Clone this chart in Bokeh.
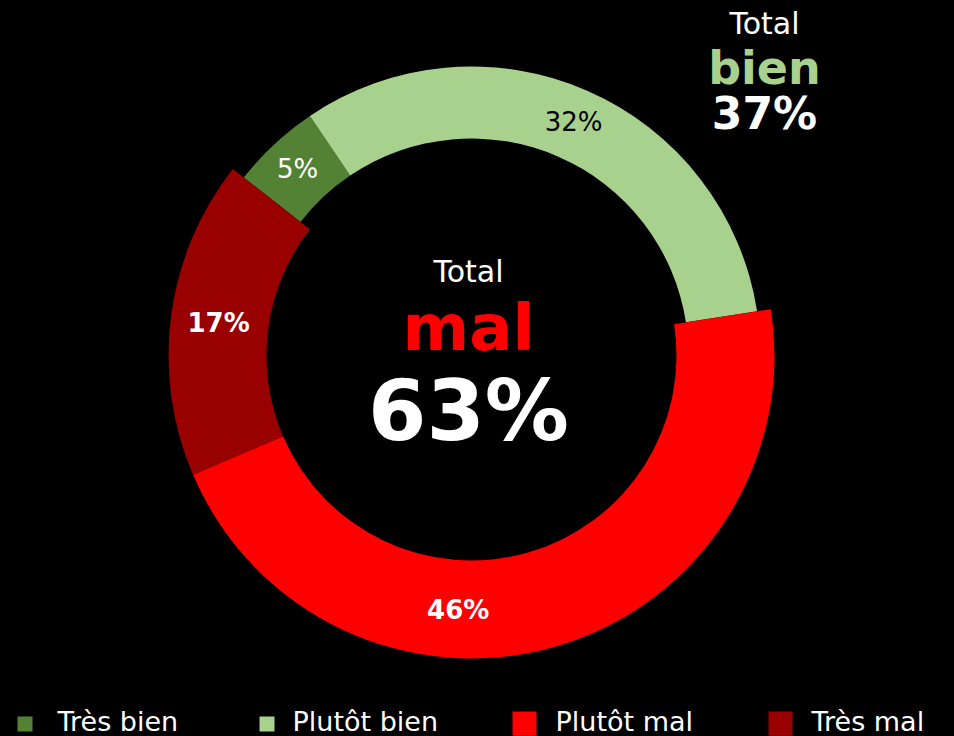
import math
from bokeh.plotting import figure
from bokeh.models import Range1d, ColumnDataSource
from bokeh.core.properties import value
from bokeh.embed import file_html
from bokeh.resources import INLINE

# ---- data ----
categories = ["Très bien", "Plutôt bien", "Plutôt mal", "Très mal"]
values = [5, 32, 46, 17]
groups = ["bien", "bien", "mal", "mal"]
colors = ["#548235", "#a9d18e", "#ff0000", "#990000"]
label_colors = ["white", "black", "white", "white"]
label_styles = ["normal", "normal", "bold", "bold"]
total_bien = sum(v for v, g in zip(values, groups) if g == "bien")
total_mal = sum(v for v, g in zip(values, groups) if g == "mal")

# ---- layout (image pixel coordinates, Y = 736 - img_y) ----
W, H = 954, 736
def Y(img_y):
    return H - img_y

cx, cy = 471, Y(355)
ring = {"bien": (217, 289), "mal": (205, 303)}
start_deg = 142.0
label_r = 255
label_shift = [0, 0, -19, 0]  # manual label nudges (deg)
FONT = "DejaVu Sans"

p = figure(width=W, height=H, x_range=Range1d(0, W), y_range=Range1d(0, H),
           output_backend="svg", toolbar_location=None, min_border=0,
           x_axis_type=None, y_axis_type=None,
           background_fill_color="black", border_fill_color="black",
           outline_line_color=None)
p.grid.visible = False

starts, ends, inners, outers, lx, ly, labels = [], [], [], [], [], [], []
a = start_deg
for v, g, sh in zip(values, groups, label_shift):
    span = v / 100.0 * 360.0
    starts.append(math.radians(a))
    ends.append(math.radians(a - span))
    inners.append(ring[g][0])
    outers.append(ring[g][1])
    mid = math.radians(a - span / 2 + sh)
    lx.append(cx + label_r * math.cos(mid))
    ly.append(cy + label_r * math.sin(mid))
    labels.append(f"{v}%")
    a -= span

src = ColumnDataSource(dict(x=[cx] * 4, y=[cy] * 4, start=starts, end=ends,
                            inner=inners, outer=outers, color=colors,
                            lx=lx, ly=ly, label=labels, lcolor=label_colors,
                            lstyle=label_styles, cat=categories))
p.annular_wedge(x="x", y="y", inner_radius="inner", outer_radius="outer",
                start_angle="start", end_angle="end",
                direction="clock", fill_color="color", line_color=None, source=src)

p.text(x="lx", y="ly", text="label", text_color="lcolor", text_font_style="lstyle",
       text_font=value(FONT), text_font_size="26px", text_align="center",
       text_baseline="middle", source=src)

# centre texts
p.text(x=[468], y=[Y(271)], text=["Total"], text_color="white", text_font=value(FONT),
       text_font_size="30px", text_align="center", text_baseline="middle")
p.text(x=[468], y=[Y(327)], text=["mal"], text_color="#ff0000", text_font=value(FONT),
       text_font_style="bold", text_font_size="64px", text_align="center",
       text_baseline="middle")
p.text(x=[468], y=[Y(410)], text=[f"{total_mal}%"], text_color="white",
       text_font=value(FONT), text_font_style="bold", text_font_size="84px",
       text_align="center", text_baseline="middle")

# top-right texts
p.text(x=[764], y=[Y(23)], text=["Total"], text_color="white", text_font=value(FONT),
       text_font_size="30px", text_align="center", text_baseline="middle")
p.text(x=[764], y=[Y(67)], text=["bien"], text_color="#a9d18e", text_font=value(FONT),
       text_font_style="bold", text_font_size="46px", text_align="center",
       text_baseline="middle")
p.text(x=[764], y=[Y(113)], text=[f"{total_bien}%"], text_color="white",
       text_font=value(FONT), text_font_style="bold", text_font_size="44px",
       text_align="center", text_baseline="middle")

# legend (manual)
leg_x = [17, 259, 512, 768]
leg_text_x = [57, 292, 555, 811]
leg_size = {"bien": 15, "mal": 24}
for i, (cat, g, col) in enumerate(zip(categories, groups, colors)):
    s = leg_size[g]
    top = 716 if g == "bien" else 711
    p.rect(x=[leg_x[i] + s / 2], y=[Y(top + s / 2)], width=s, height=s,
           fill_color=col, line_color=None)
    p.text(x=[leg_text_x[i]], y=[Y(721)], text=[cat], text_color="white",
           text_font=value(FONT), text_font_size="27px", text_align="left",
           text_baseline="middle")

html = file_html(p, INLINE)
html = html.replace("<head>", "<head><style>html,body{background:#000;margin:0;padding:0;overflow:hidden}</style>", 1)
open("out.html", "w").write(html)
